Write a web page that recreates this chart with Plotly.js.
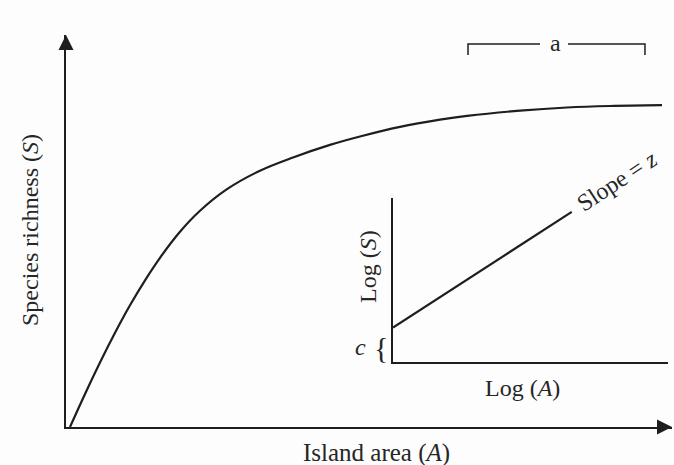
<!DOCTYPE html>
<html>
<head>
<meta charset="utf-8">
<script src="https://cdn.plot.ly/plotly-3.0.1.min.js"></script>
<style>
  html, body { margin: 0; padding: 0; background: #fdfdfd; }
  #chart { width: 674px; height: 465px; }
</style>
</head>
<body>
<div id="chart"></div>
<script>
// Species–area curve: richness rises quickly, then levels off
const islandArea = [0.66, 3.14, 5.61, 8.09, 10.56, 13.04, 15.51, 18.81, 22.11, 26.57, 32.01,
                    37.46, 43.56, 48.51, 55.12, 61.72, 66.17, 74.92, 82.67, 89.77, 98.35];
const speciesRichness = [0, 8.42, 16.45, 24.03, 31.04, 37.42, 43.16, 49.80, 55.15, 60.66, 65.38,
                         68.75, 71.96, 74.11, 76.56, 78.39, 79.36, 80.71, 81.51, 81.89, 82.09];

// Inset: the same relation on log–log axes is a straight line (intercept c, slope z)
const logArea = [0, 6.5];
const logRichness = [2.1, 9.15];

const ink = '#1e1e1e';
const serif = 'Liberation Serif, Times New Roman, serif';

const traces = [
  {
    x: islandArea, y: speciesRichness,
    type: 'scatter', mode: 'lines',
    line: { color: ink, width: 2.2, shape: 'spline', smoothing: 1 },
    xaxis: 'x', yaxis: 'y', hoverinfo: 'skip'
  },
  {
    x: logArea, y: logRichness,
    type: 'scatter', mode: 'lines',
    line: { color: ink, width: 2.2 },
    xaxis: 'x2', yaxis: 'y2', hoverinfo: 'skip'
  }
];

const bareAxis = {
  showgrid: false, zeroline: false, showticklabels: false, ticks: '',
  showline: true, linecolor: ink, linewidth: 1.6, fixedrange: true
};

const layout = {
  width: 674, height: 465,
  margin: { l: 66, r: 2, t: 35, b: 38 },
  paper_bgcolor: '#fdfdfd', plot_bgcolor: 'rgba(0,0,0,0)',
  showlegend: false,
  font: { family: serif, color: '#262626', size: 24 },
  xaxis: Object.assign({}, bareAxis, { range: [0, 100], domain: [0, 1], anchor: 'y' }),
  yaxis: Object.assign({}, bareAxis, { range: [0, 100], domain: [0, 1], anchor: 'x' }),
  xaxis2: Object.assign({}, bareAxis, { range: [0, 10], domain: [0.5396, 0.9934], anchor: 'y2' }),
  yaxis2: Object.assign({}, bareAxis, { range: [0, 10], domain: [0.1658, 0.5842], anchor: 'x2' }),
  shapes: [
    // bracket marking the asymptote region "a"
    { type: 'path', xref: 'paper', yref: 'paper',
      path: 'M0.6634,0.949 L0.6634,0.977 L0.7822,0.977',
      line: { color: ink, width: 1.5 } },
    { type: 'path', xref: 'paper', yref: 'paper',
      path: 'M0.8284,0.977 L0.9554,0.977 L0.9554,0.949',
      line: { color: ink, width: 1.5 } }
  ],
  annotations: [
    // arrowheads on the main axes
    { xref: 'paper', yref: 'paper', x: 0, y: 1, ax: 0, ay: 16, text: '',
      showarrow: true, arrowhead: 2, arrowsize: 2, arrowwidth: 1.5, arrowcolor: ink },
    { xref: 'paper', yref: 'paper', x: 1, y: 0, ax: -16, ay: 0, text: '',
      showarrow: true, arrowhead: 2, arrowsize: 2, arrowwidth: 1.5, arrowcolor: ink },
    // axis labels
    { xref: 'paper', yref: 'paper', x: 0.513, y: -0.066, text: 'Island area (<i>A</i>)',
      showarrow: false, xanchor: 'center', yanchor: 'middle', font: { size: 25 } },
    { xref: 'paper', yref: 'paper', x: -0.0594, y: 0.5026, text: 'Species richness (<i>S</i>)',
      showarrow: false, textangle: -90, xanchor: 'center', yanchor: 'middle' },
    // inset labels
    { xref: 'paper', yref: 'paper', x: 0.4983, y: 0.4107, text: 'Log (<i>S</i>)',
      showarrow: false, textangle: -90, xanchor: 'center', yanchor: 'middle' },
    { xref: 'paper', yref: 'paper', x: 0.7525, y: 0.0995, text: 'Log (<i>A</i>)',
      showarrow: false, xanchor: 'center', yanchor: 'middle' },
    { xref: 'paper', yref: 'paper', x: 0.4867, y: 0.2041, text: '<i>c</i>',
      showarrow: false, xanchor: 'center', yanchor: 'middle' },
    { xref: 'paper', yref: 'paper', x: 0.5190, y: 0.2035, text: '{',
      showarrow: false, xanchor: 'center', yanchor: 'middle', font: { size: 30 } },
    { xref: 'paper', yref: 'paper', x: 0.9092, y: 0.628, text: 'Slope = <i>z</i>',
      showarrow: false, textangle: -33, xanchor: 'center', yanchor: 'middle' },
    { xref: 'paper', yref: 'paper', x: 0.807, y: 0.9796, text: 'a',
      showarrow: false, xanchor: 'center', yanchor: 'middle' }
  ]
};

Plotly.newPlot('chart', traces, layout, { staticPlot: true, displayModeBar: false });
</script>
</body>
</html>
